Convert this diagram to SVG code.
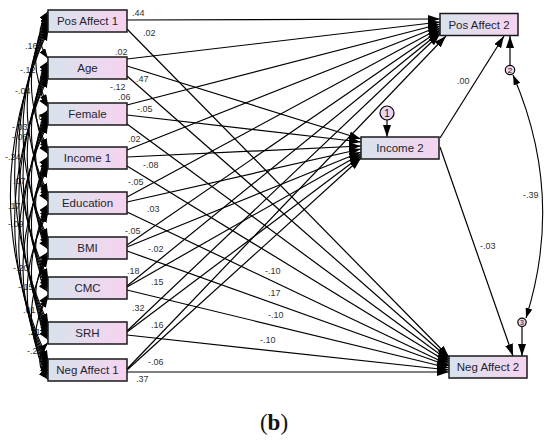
<svg xmlns="http://www.w3.org/2000/svg" width="550" height="446" viewBox="0 0 550 446">
<defs>
<linearGradient id="g" x1="0" y1="0" x2="1" y2="0">
<stop offset="0" stop-color="#d8e3ec"/>
<stop offset="1" stop-color="#f6d3f0"/>
</linearGradient>
<marker id="ah" markerUnits="userSpaceOnUse" markerWidth="14" markerHeight="10" refX="12" refY="4" orient="auto"><path d="M0,0 L12,4 L0,8 z" fill="#000"/></marker>
<marker id="ahc" markerUnits="userSpaceOnUse" markerWidth="12" markerHeight="9" refX="10" refY="3.5" orient="auto-start-reverse"><path d="M0,0 L10,3.5 L0,7 z" fill="#000"/></marker>
</defs>
<style>
.box{fill:url(#g);stroke:#1a1a1a;stroke-width:1.5}
.nl{font-family:"Liberation Sans",Arial,sans-serif;font-size:11.5px;fill:#1f1f2e;text-anchor:middle}
.lb{font-family:"Liberation Sans",Arial,sans-serif;font-size:9px;fill:#333}
.p{stroke:#000;stroke-width:1.2;fill:none;marker-end:url(#ah)}
.c{stroke:#000;stroke-width:1.1;fill:none;marker-start:url(#ahc);marker-end:url(#ahc)}
.err{fill:#ead4f1;stroke:#000;stroke-width:1.2}
.en{font-family:"Liberation Sans",Arial,sans-serif;fill:#111;text-anchor:middle}
</style>
<rect width="550" height="446" fill="#fff"/>
<g id="cov-labels" class="lb">
<text x="25" y="49">.16</text>
<text x="20" y="73">-.12</text>
<text x="15" y="94">-.04</text>
<text x="36" y="120">.05</text>
<text x="12" y="130">-.03</text>
<text x="12" y="140">-.06</text>
<text x="5" y="160">-.24</text>
<text x="13" y="184">.07</text>
<text x="8" y="209">.17</text>
<text x="8" y="227">-.09</text>
<text x="13" y="271">-.20</text>
<text x="18" y="290">-.15</text>
<text x="23" y="313">.01</text>
<text x="28" y="335">.21</text>
<text x="27" y="354">-.25</text>
</g>
<g id="connectors">
<g id="covariances">
<path class="c" d="M48,11.5 Q31.6,35 48,58.5"/>
<path class="c" d="M48,14.2 Q23.2,59.35 48,104.5"/>
<path class="c" d="M48,16.9 Q14.8,82.7 48,148.5"/>
<path class="c" d="M48,19.6 Q6.4,106.55 48,193.5"/>
<path class="c" d="M48,22.3 Q-2,130.4 48,238.5"/>
<path class="c" d="M48,25 Q-10.4,151.75 48,278.5"/>
<path class="c" d="M48,27.7 Q-18.8,175.6 48,323.5"/>
<path class="c" d="M48,30.4 Q-27.2,195.45 48,360.5"/>
<path class="c" d="M48,61.2 Q31.6,84.2 48,107.2"/>
<path class="c" d="M48,63.9 Q23.2,107.55 48,151.2"/>
<path class="c" d="M48,66.6 Q14.8,131.4 48,196.2"/>
<path class="c" d="M48,69.3 Q6.4,155.25 48,241.2"/>
<path class="c" d="M48,72 Q-2,176.6 48,281.2"/>
<path class="c" d="M48,74.7 Q-10.4,200.45 48,326.2"/>
<path class="c" d="M48,77.4 Q-18.8,220.3 48,363.2"/>
<path class="c" d="M48,109.9 Q31.6,131.9 48,153.9"/>
<path class="c" d="M48,112.6 Q23.2,155.75 48,198.9"/>
<path class="c" d="M48,115.3 Q14.8,179.6 48,243.9"/>
<path class="c" d="M48,118 Q6.4,200.95 48,283.9"/>
<path class="c" d="M48,120.7 Q-2,224.8 48,328.9"/>
<path class="c" d="M48,123.4 Q-10.4,244.65 48,365.9"/>
<path class="c" d="M48,156.6 Q31.6,179.1 48,201.6"/>
<path class="c" d="M48,159.3 Q23.2,202.95 48,246.6"/>
<path class="c" d="M48,162 Q14.8,224.3 48,286.6"/>
<path class="c" d="M48,164.7 Q6.4,248.15 48,331.6"/>
<path class="c" d="M48,167.4 Q-2,268 48,368.6"/>
<path class="c" d="M48,204.3 Q31.6,226.8 48,249.3"/>
<path class="c" d="M48,207 Q23.2,248.15 48,289.3"/>
<path class="c" d="M48,209.7 Q14.8,272 48,334.3"/>
<path class="c" d="M48,212.4 Q6.4,291.85 48,371.3"/>
<path class="c" d="M48,252 Q31.6,272 48,292"/>
<path class="c" d="M48,254.7 Q23.2,295.85 48,337"/>
<path class="c" d="M48,257.4 Q14.8,315.7 48,374"/>
<path class="c" d="M48,294.7 Q31.6,317.2 48,339.7"/>
<path class="c" d="M48,297.4 Q23.2,337.05 48,376.7"/>
<path class="c" d="M48,342.4 Q31.6,360.9 48,379.4"/>
</g>
<g id="paths">
<path class="p" d="M127,20 L440,19"/>
<path class="p" d="M127,29 L449,357"/>
<path class="p" d="M127,59 L440,22"/>
<path class="p" d="M127,66 L361,139"/>
<path class="p" d="M127,76 L449,359"/>
<path class="p" d="M127,105 L440,24"/>
<path class="p" d="M127,115 L361,142"/>
<path class="p" d="M127,124 L449,361"/>
<path class="p" d="M127,150 L440,26"/>
<path class="p" d="M127,157 L361,146"/>
<path class="p" d="M127,166 L449,363"/>
<path class="p" d="M127,197 L440,28"/>
<path class="p" d="M127,202 L361,149"/>
<path class="p" d="M127,212 L449,365"/>
<path class="p" d="M127,245 L440,30"/>
<path class="p" d="M127,247 L361,152"/>
<path class="p" d="M127,251 L449,366"/>
<path class="p" d="M127,286 L440,32"/>
<path class="p" d="M127,287 L361,154"/>
<path class="p" d="M127,290 L449,368"/>
<path class="p" d="M127,331 L440,34"/>
<path class="p" d="M127,332 L361,156"/>
<path class="p" d="M127,335 L449,370"/>
<path class="p" d="M127,369 L446,36"/>
<path class="p" d="M127,370 L361,158"/>
<path class="p" d="M127,372 L449,372"/>
<path class="p" d="M440,138 L504,36"/>
<path class="p" d="M440,147 L513,356"/>
<path class="p" d="M387,120 L387,137"/>
<path class="p" d="M510,65.5 L510,36"/>
<path class="p" d="M522,326.5 L522,356"/>
<path class="c" d="M513,75 Q565,195 526,318"/>
</g>
</g>
<g id="path-labels" class="lb">
<text x="132" y="16">.44</text>
<text x="143" y="36">.02</text>
<text x="115" y="55">.02</text>
<text x="136" y="82">.47</text>
<text x="110" y="90">-.12</text>
<text x="118" y="99.5">.06</text>
<text x="137" y="112">-.05</text>
<text x="128" y="142">.02</text>
<text x="143" y="168">-.08</text>
<text x="128" y="185">-.05</text>
<text x="147" y="212">.03</text>
<text x="125" y="234">-.05</text>
<text x="148" y="252">-.02</text>
<text x="127" y="274">.18</text>
<text x="151" y="285">.15</text>
<text x="132" y="311">.32</text>
<text x="151" y="328">.16</text>
<text x="148" y="365">-.06</text>
<text x="136" y="382">.37</text>
<text x="265" y="274">-.10</text>
<text x="268" y="296">.17</text>
<text x="268" y="318">-.10</text>
<text x="260" y="343">-.10</text>
<text x="457" y="84">.00</text>
<text x="480" y="249">-.03</text>
<text x="523" y="198">-.39</text>
</g>
<g id="n-posaffect1"><rect class="box" x="48" y="10" width="79" height="22"/><text class="nl" x="87.5" y="25">Pos Affect 1</text></g>
<g id="n-age"><rect class="box" x="48" y="57" width="79" height="22"/><text class="nl" x="87.5" y="72">Age</text></g>
<g id="n-female"><rect class="box" x="48" y="103" width="79" height="22"/><text class="nl" x="87.5" y="118">Female</text></g>
<g id="n-income1"><rect class="box" x="48" y="147" width="79" height="22"/><text class="nl" x="87.5" y="162">Income 1</text></g>
<g id="n-education"><rect class="box" x="48" y="192" width="79" height="22"/><text class="nl" x="87.5" y="207">Education</text></g>
<g id="n-bmi"><rect class="box" x="48" y="237" width="79" height="22"/><text class="nl" x="87.5" y="252">BMI</text></g>
<g id="n-cmc"><rect class="box" x="48" y="277" width="79" height="22"/><text class="nl" x="87.5" y="292">CMC</text></g>
<g id="n-srh"><rect class="box" x="48" y="322" width="79" height="22"/><text class="nl" x="87.5" y="337">SRH</text></g>
<g id="n-negaffect1"><rect class="box" x="48" y="359" width="79" height="22"/><text class="nl" x="87.5" y="374">Neg Affect 1</text></g>
<g id="n-posaffect2"><rect class="box" x="440" y="13.5" width="78" height="22"/><text class="nl" x="479" y="28.5">Pos Affect 2</text></g>
<g id="n-income2"><rect class="box" x="361" y="137" width="78" height="22"/><text class="nl" x="400" y="152">Income 2</text></g>
<g id="n-negaffect2"><rect class="box" x="449" y="356" width="78" height="22"/><text class="nl" x="488" y="371">Neg Affect 2</text></g>
<g id="e1"><circle class="err" cx="387" cy="113" r="7"/><text class="en" x="387" y="116.5" font-size="10">1</text></g>
<g id="e2"><circle class="err" cx="510" cy="70" r="4.7"/><text class="en" x="510" y="73" font-size="8">2</text></g>
<g id="e3"><circle class="err" cx="522" cy="322.3" r="4.2"/><text class="en" x="522" y="325" font-size="7">3</text></g>
<text x="274" y="430" font-family="'Liberation Serif','Times New Roman',serif" font-size="23" text-anchor="middle" fill="#111">(<tspan font-weight="bold">b</tspan>)</text>
</svg>
